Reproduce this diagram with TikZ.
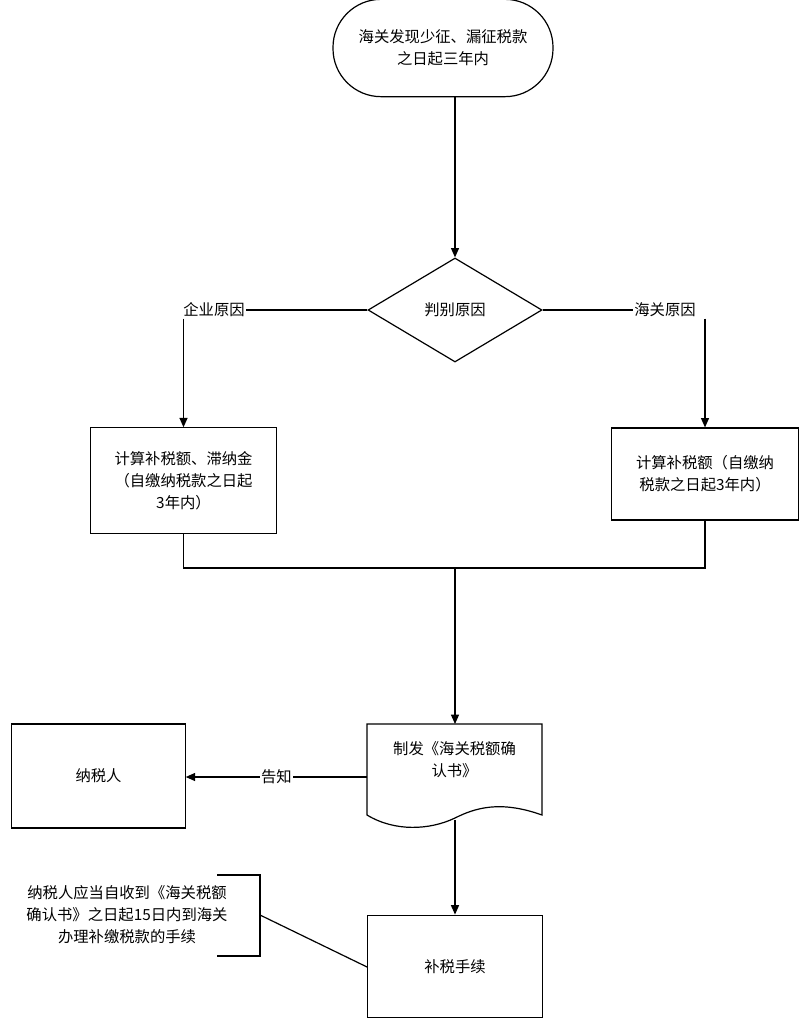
\documentclass[tikz,border=0pt]{standalone}
\usepackage{fontspec}
\setmainfont{Noto Sans CJK SC}
\usetikzlibrary{shapes.geometric,arrows.meta,positioning}
\tikzset{
    box/.style={draw, line width=0.9pt, minimum width=139pt, minimum height=78pt, align=center, font=\fontsize{11.5}{16.5}\selectfont},
    lbl/.style={font=\fontsize{11.5}{14}\selectfont, fill=white, inner sep=1pt},
    flow/.style={draw, line width=0.9pt, -{Triangle[length=7pt,width=6pt]}},
    plain/.style={draw, line width=0.9pt}
}
\begin{document}
\begin{tikzpicture}[x=0.75pt, y=-0.75pt]
	\useasboundingbox (0,0) rectangle (800,1020);
	% top
	\node[box, rounded corners=36pt, minimum width=165pt, minimum height=73pt] (start) at (443,48) {海关发现少征、漏征税款\\之日起三年内};
	\node[draw, line width=0.9pt, diamond, minimum width=130.5pt, minimum height=78pt, inner sep=0pt, font=\fontsize{11.5}{14}\selectfont] (judge) at (455,310) {判别原因};
	\draw[flow] (start.south -| judge.north) -- (judge.north);
	% two causes
	\node[lbl] (qiye) at (214,310) {企业原因};
	\node[lbl] (haiguan) at (665,310) {海关原因};
	\node[box, minimum width=140pt, minimum height=79pt] (calcL) at (183.5,480.5) {计算补税额、滞纳金\\（自缴纳税款之日起\\3年内）};
	\node[box, minimum width=140pt, minimum height=69pt] (calcR) at (705,474) {计算补税额（自缴纳\\税款之日起3年内）};
	\draw[plain] (judge.west) -- (qiye.east |- judge.west);
	\draw[plain] (judge.east) -- (haiguan.west |- judge.east);
	\draw[flow] (qiye.south -| calcL.north) -- (calcL.north);
	\draw[flow] (haiguan.south -| calcR.north) -- (calcR.north);
	% merge
	\coordinate (mL) at (183.5,568);
	\coordinate (mR) at (705,568);
	\coordinate (mC) at (455,568);
	\draw[plain] (calcL.south) -- (mL) -- (mR) -- (calcR.south);
	% document
	\coordinate (docTL) at (367,724);
	\coordinate (docTR) at (542,724);
	\draw[line width=0.9pt] (docTL) -- (docTR) -- (542,815)
	    .. controls (500,800) and (475,808) .. (455,818)
	    .. controls (430,830) and (395,832) .. (367,815) -- cycle;
	\node[align=center, font=\fontsize{11.5}{16.5}\selectfont] (doc) at (454.5,760) {制发《海关税额确\\认书》};
	\coordinate (docB) at (455,820);
	\draw[flow] (mC) -- (455,724);
	% taxpayer
	\node[box, minimum width=130pt, minimum height=78pt] (payer) at (98.5,776) {纳税人};
	\draw[flow] (367,777) -- node[lbl] (tell) {告知} (payer.east |- 0,777);
	% payment
	\node[box, minimum width=131pt, minimum height=77pt] (pay) at (455,966.5) {补税手续};
	\draw[flow] (docB) -- (pay.north);
	% annotation
	\node[align=center, font=\fontsize{11.5}{16.5}\selectfont, inner sep=1pt] (note) at (127,915) {纳税人应当自收到《海关税额\\确认书》之日起15日内到海关\\办理补缴税款的手续};
	\coordinate (brT) at (260,875);
	\coordinate (brB) at (260,956);
	\coordinate (brM) at (260,915);
	\draw[plain] (217,875) -- (brT) -- (brB) -- (217,956);
	\draw[plain] (brM) -- (pay.west |- 0,967);
\end{tikzpicture}
\end{document}
